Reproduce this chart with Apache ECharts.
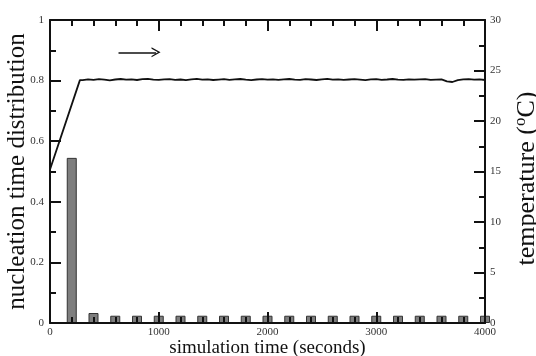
<!DOCTYPE html>
<html>
<head>
<meta charset="utf-8">
<script src="https://cdn.jsdelivr.net/npm/echarts@6/dist/echarts.min.js"></script>
<style>
  html, body { margin: 0; padding: 0; background: #fff; }
  #chart { width: 536px; height: 356px; }
</style>
</head>
<body>
<div id="chart"></div>
<script>
// Histogram of nucleation times (bin centres in seconds, fraction of runs)
const binCentres = [200, 400, 600, 800, 1000, 1200, 1400, 1600, 1800, 2000,
                    2200, 2400, 2600, 2800, 3000, 3200, 3400, 3600, 3800, 4000];
const binFractions = [0.545, 0.033, 0.024, 0.024, 0.024, 0.024, 0.024, 0.024, 0.024, 0.024,
                      0.024, 0.024, 0.024, 0.024, 0.024, 0.024, 0.024, 0.024, 0.024, 0.024];

// Temperature trace (seconds, degrees C)
const tempTimes = [0, 275,
  300, 350, 400, 450, 500, 550, 600, 650, 700, 750,
  800, 850, 900, 950, 1000, 1050, 1100, 1150, 1200, 1250,
  1300, 1350, 1400, 1450, 1500, 1550, 1600, 1650, 1700, 1750,
  1800, 1850, 1900, 1950, 2000, 2050, 2100, 2150, 2200, 2250,
  2300, 2350, 2400, 2450, 2500, 2550, 2600, 2650, 2700, 2750,
  2800, 2850, 2900, 2950, 3000, 3050, 3100, 3150, 3200, 3250,
  3300, 3350, 3400, 3450, 3500, 3550, 3600, 3650, 3700, 3750,
  3800, 3850, 3900, 3950, 4000];
const tempValues = [15.2, 24.05,
  24.05, 24.12, 24.08, 24.15, 24.10, 24.03, 24.11, 24.16, 24.09, 24.13,
  24.06, 24.14, 24.18, 24.10, 24.07, 24.12, 24.15, 24.08, 24.11, 24.04,
  24.13, 24.17, 24.09, 24.12, 24.06, 24.10, 24.14, 24.08, 24.12, 24.16,
  24.10, 24.05, 24.11, 24.15, 24.09, 24.13, 24.07, 24.12, 24.16, 24.10,
  24.08, 24.14, 24.11, 24.06, 24.12, 24.17, 24.09, 24.13, 24.07, 24.11,
  24.15, 24.10, 24.05, 24.12, 24.14, 24.08, 24.11, 24.16, 24.10, 24.07,
  24.13, 24.09, 24.12, 24.15, 24.08, 24.10, 24.12, 23.92, 23.86, 24.04,
  24.12, 24.15, 24.10, 24.13, 24.06];

// Arrow pointing at the temperature axis (seconds, degrees C)
const arrowTimes = [630, 975];
const arrowTemp = 26.8;

const xTicks = [0, 1000, 2000, 3000, 4000];
const leftTicks = [0, 0.2, 0.4, 0.6, 0.8, 1];
const rightTicks = [0, 5, 10, 15, 20, 25, 30];

const serif = '"Liberation Serif", "DejaVu Serif", serif';
const ink = '#111';
const labelStyle = { fontFamily: serif, fontSize: 11, color: '#333', formatter: v => String(v) };

const chart = echarts.init(document.getElementById('chart'), null, { renderer: 'canvas' });

const axisLine = { show: true, onZero: false, lineStyle: { color: ink, width: 2 } };
const majorTick = { show: true, inside: true, length: 11, lineStyle: { color: ink, width: 2 } };
const minorTickOf = n => ({ show: true, splitNumber: n, length: 6, lineStyle: { color: ink, width: 2 } });

// open chevron head for the arrow, drawn pointing up (ECharts rotates it)
const chevron = 'path://M0,9 L5,0 L10,9 L8.6,9 L5,2.6 L1.4,9 Z';

chart.setOption({
  animation: false,
  backgroundColor: '#fff',
  grid: { left: 50, right: 51, top: 20, bottom: 33, outerBoundsMode: 'none', containLabel: false },
  xAxis: [
    {
      type: 'value', min: xTicks[0], max: xTicks[xTicks.length - 1], interval: 1000,
      position: 'bottom', z: 10,
      name: 'simulation time (seconds)', nameLocation: 'middle', nameGap: 16,
      nameMoveOverlap: false,
      nameTextStyle: { fontFamily: serif, fontSize: 19, color: ink },
      axisLine: axisLine,
      axisTick: majorTick,
      minorTick: minorTickOf(5),
      axisLabel: Object.assign({ margin: 4 }, labelStyle),
      splitLine: { show: false }
    },
    {
      type: 'value', min: xTicks[0], max: xTicks[xTicks.length - 1], interval: 1000,
      position: 'top', z: 10,
      axisLine: axisLine,
      axisTick: majorTick,
      minorTick: minorTickOf(5),
      axisLabel: { show: false },
      splitLine: { show: false }
    }
  ],
  yAxis: [
    {
      type: 'value', min: leftTicks[0], max: leftTicks[leftTicks.length - 1], interval: 0.2,
      position: 'left', z: 10,
      name: 'nucleation time distribution', nameLocation: 'middle', nameGap: 20,
      nameMoveOverlap: false,
      nameTextStyle: { fontFamily: serif, fontSize: 25, color: ink },
      axisLine: axisLine,
      axisTick: majorTick,
      minorTick: minorTickOf(2),
      axisLabel: Object.assign({ margin: 6 }, labelStyle),
      splitLine: { show: false }
    },
    {
      type: 'value', min: rightTicks[0], max: rightTicks[rightTicks.length - 1], interval: 5,
      position: 'right', z: 10,
      name: 'temperature ({sup|o}C)', nameLocation: 'middle', nameGap: 27, nameRotate: 90,
      nameMoveOverlap: false,
      nameTextStyle: {
        fontFamily: serif, fontSize: 26, color: ink, padding: [0, 14, 0, 0],
        rich: { sup: { fontFamily: serif, fontSize: 17, color: ink, verticalAlign: 'top', padding: [0, 0, 13, 0] } }
      },
      axisLine: axisLine,
      axisTick: majorTick,
      minorTick: minorTickOf(2),
      axisLabel: Object.assign({ margin: 5 }, labelStyle),
      splitLine: { show: false }
    }
  ],
  series: [
    {
      type: 'bar',
      xAxisIndex: 0, yAxisIndex: 0,
      barWidth: 10,
      clip: true,
      z: 1,
      itemStyle: { color: '#7e7e7e', borderColor: '#333', borderWidth: 1 },
      data: binCentres.map((t, i) => [t, binFractions[i]])
    },
    {
      type: 'line',
      xAxisIndex: 0, yAxisIndex: 1,
      showSymbol: false,
      z: 3,
      lineStyle: { color: ink, width: 1.8 },
      data: tempTimes.map((t, i) => [t, tempValues[i]]),
      markLine: {
        silent: true,
        symbol: ['none', chevron],
        symbolSize: [10, 9],
        label: { show: false },
        itemStyle: { color: ink },
        lineStyle: { color: ink, width: 1.6, type: 'solid' },
        data: [[
          { coord: [arrowTimes[0], arrowTemp] },
          { coord: [arrowTimes[1], arrowTemp] }
        ]]
      }
    }
  ]
});
</script>
</body>
</html>
